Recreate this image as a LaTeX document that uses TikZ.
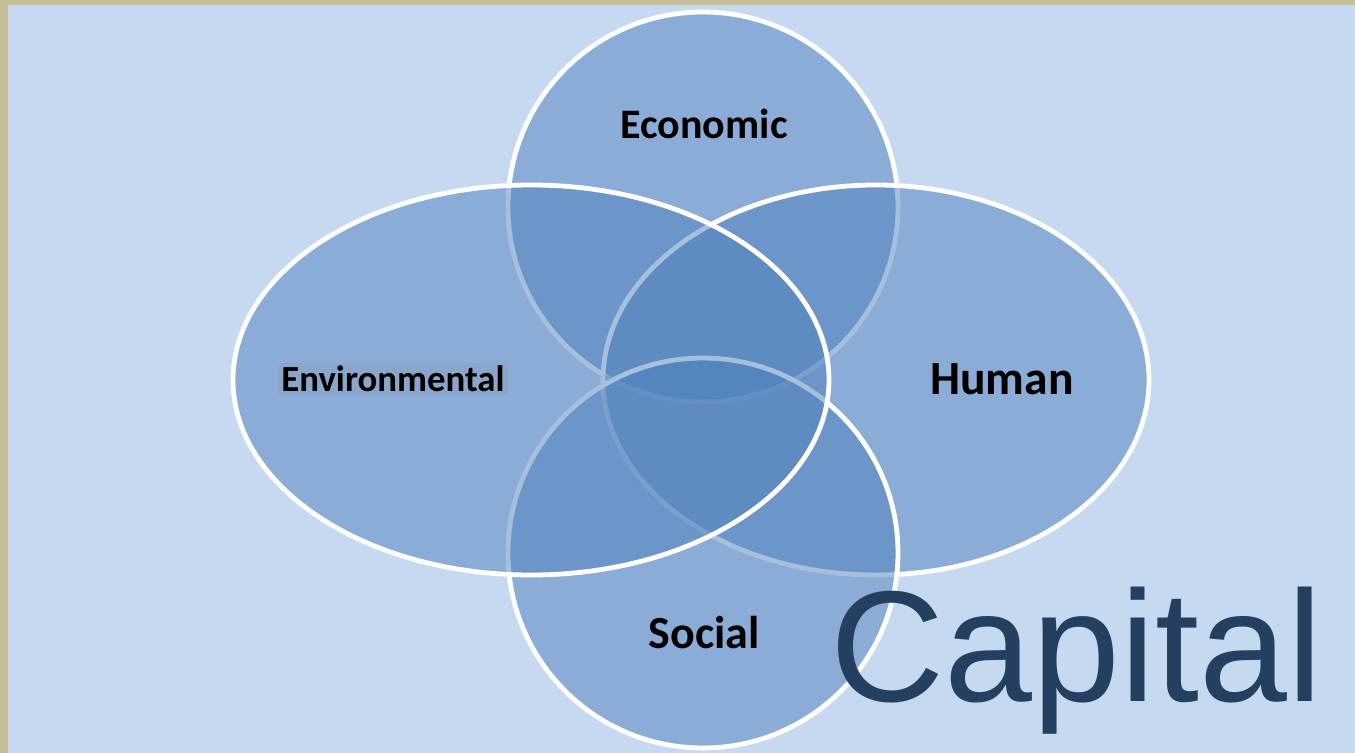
\documentclass[tikz,border=0pt]{standalone}
\usepackage{fontspec}
\usetikzlibrary{shapes.geometric}
\newfontfamily\labelfont{Carlito}
\newfontfamily\titlefont{Liberation Sans}
\definecolor{capbg}{RGB}{198,217,240}
\definecolor{capframe}{RGB}{197,190,151}
\definecolor{capblue}{RGB}{79,129,189}
\definecolor{caphl}{RGB}{139,166,203}
\definecolor{captext}{RGB}{36,63,96}

\begin{document}
\begin{tikzpicture}[x=0.5pt,y=-0.5pt,
    ring/.style={ellipse, draw=white, line width=2.4pt, fill=capblue, fill opacity=0.5, inner sep=0pt},
    lbl/.style={anchor=base, inner sep=0pt, font=\labelfont\bfseries}]
    % Draw the slide background
    \fill[capframe] (0,0) rectangle (1355,753);
    \fill[capbg] (8,5) rectangle (1355,753);
    \useasboundingbox (0,0) rectangle (1355,753);

    % Draw the four capitals
    \node (economic) [ring, minimum width=195pt, minimum height=195pt] at (703,207) {};
    \node (human) [ring, minimum width=273pt, minimum height=195pt] at (876,380) {};
    \node (social) [ring, minimum width=195pt, minimum height=195pt] at (703,553) {};
    \node (environmental) [ring, minimum width=298pt, minimum height=195pt] at (531,380) {};

    % Draw the labels
    \node (economiclbl) [lbl, font=\labelfont\bfseries\fontsize{21}{25}\selectfont] at (704,139) {Economic};
    \node (humanlbl) [lbl, font=\labelfont\bfseries\fontsize{23.8}{28}\selectfont] at (1002,395) {Human};
    \node (sociallbl) [lbl, font=\labelfont\bfseries\fontsize{23}{27}\selectfont] at (704,648) {Social};
    \node (environmentallbl) [lbl, fill=caphl, inner xsep=1.5pt, inner ysep=0.5pt, text height=14pt, text depth=0.5pt,
        font=\labelfont\bfseries\fontsize{18.4}{22}\selectfont] at (393,392) {Environmental};

    % Draw the title
    \node (capital) [anchor=base west, inner sep=0pt, text=captext, font=\titlefont\fontsize{79}{92}\selectfont] at (830,701) {Capital};
\end{tikzpicture}
\end{document}
